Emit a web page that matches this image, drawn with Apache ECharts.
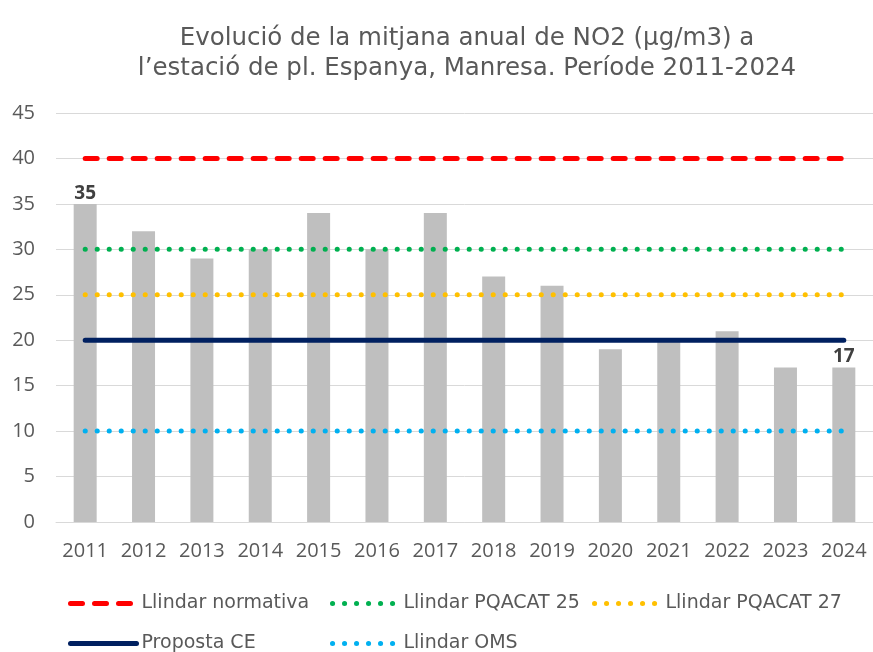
<!DOCTYPE html>
<html>
<head>
<meta charset="utf-8">
<script src="https://cdn.jsdelivr.net/npm/echarts@6/dist/echarts.min.js"></script>
<style>
  html, body { margin: 0; padding: 0; background: #ffffff; }
  #chart { width: 873px; height: 652px; }
</style>
</head>
<body>
<div id="chart"></div>
<script>
// Annual mean NO2 at the pl. Espanya station (Manresa), µg/m3
const years = ['2011', '2012', '2013', '2014', '2015', '2016', '2017',
               '2018', '2019', '2020', '2021', '2022', '2023', '2024'];
const no2Mean = [35, 32, 29, 30, 34, 30, 34, 27, 26, 19, 20, 21, 17, 17];

// Reference thresholds, one value per year
const llindarNormativa = [40, 40, 40, 40, 40, 40, 40, 40, 40, 40, 40, 40, 40, 40];
const llindarPqacat25  = [30, 30, 30, 30, 30, 30, 30, 30, 30, 30, 30, 30, 30, 30];
const llindarPqacat27  = [25, 25, 25, 25, 25, 25, 25, 25, 25, 25, 25, 25, 25, 25];
const propostaCE       = [20, 20, 20, 20, 20, 20, 20, 20, 20, 20, 20, 20, 20, 20];
const llindarOMS       = [10, 10, 10, 10, 10, 10, 10, 10, 10, 10, 10, 10, 10, 10];

// Years whose bar carries a value label
const labelledYears = ['2011', '2024'];

const FONT = '"Open Sans", Roboto, sans-serif';
const WIDE_FONT = '"DejaVu Sans", "Open Sans", sans-serif';
const TEXT = '#595959';

const DOTS = [0.1, 11.9];
const DASH = [12, 12];

const barData = no2Mean.map((v, i) => ({
  value: v,
  label: { show: labelledYears.includes(years[i]) }
}));

function thresholdLine(name, data, color, width, type) {
  return {
    name: name,
    type: 'line',
    data: data,
    symbol: 'none',
    z: 5,
    silent: true,
    lineStyle: { color: color, width: width, type: type, cap: 'round' },
    itemStyle: { color: color }
  };
}

// One legend block per entry so the entries sit on a fixed two-row grid
function legendAt(name, left, top, width) {
  return {
    data: [name],
    left: left,
    top: top,
    itemWidth: 66,
    itemHeight: 14,
    itemGap: 0,
    itemStyle: { opacity: 0, borderWidth: 0 },
    lineStyle: { width: width, cap: 'round' },
    textStyle: { color: TEXT, fontSize: 19, fontFamily: WIDE_FONT },
    selectedMode: false
  };
}

const chart = echarts.init(document.getElementById('chart'), null, { renderer: 'canvas' });

chart.setOption({
  backgroundColor: '#ffffff',
  animation: false,
  textStyle: { fontFamily: FONT },
  title: {
    text: 'Evolució de la mitjana anual de NO2 (µg/m3) a\nl’estació de pl. Espanya, Manresa. Període 2011-2024',
    left: 462,
    textAlign: 'center',
    top: 19,
    textStyle: { color: TEXT, fontSize: 24.5, fontWeight: 'normal', fontFamily: WIDE_FONT, lineHeight: 30 }
  },
  legend: [
    legendAt('Llindar normativa', 63, 589, 5),
    legendAt('Llindar PQACAT 25', 325, 589, 5),
    legendAt('Llindar PQACAT 27', 587, 589, 5),
    legendAt('Proposta CE', 63, 629, 5),
    legendAt('Llindar OMS', 325, 629, 5)
  ],
  grid: { left: 56, top: 113, width: 819, height: 409 },
  xAxis: {
    type: 'category',
    data: years,
    boundaryGap: true,
    axisLine: { show: true, lineStyle: { color: '#D9D9D9', width: 1 } },
    axisTick: { show: false },
    axisLabel: { color: TEXT, fontSize: 20, fontFamily: FONT, margin: 19, interval: 0 }
  },
  yAxis: {
    type: 'value',
    min: 0,
    max: 45,
    interval: 5,
    axisLine: { show: false },
    axisTick: { show: false },
    axisLabel: { color: TEXT, fontSize: 20, fontFamily: FONT, margin: 21 },
    splitLine: { lineStyle: { color: '#D9D9D9', width: 1 } }
  },
  series: [
    {
      name: 'NO2',
      type: 'bar',
      data: barData,
      barWidth: 23,
      itemStyle: { color: '#BFBFBF' },
      label: {
        show: false,
        position: 'top',
        distance: 1,
        color: '#404040',
        fontSize: 19,
        fontWeight: 'bold',
        fontFamily: FONT
      },
      z: 2
    },
    thresholdLine('Llindar normativa', llindarNormativa, '#FF0000', 5, DASH),
    thresholdLine('Llindar PQACAT 25', llindarPqacat25, '#00B050', 5, DOTS),
    thresholdLine('Llindar PQACAT 27', llindarPqacat27, '#FFC000', 5, DOTS),
    thresholdLine('Proposta CE', propostaCE, '#002060', 5, 'solid'),
    thresholdLine('Llindar OMS', llindarOMS, '#00B0F0', 5, DOTS)
  ]
});
</script>
</body>
</html>
